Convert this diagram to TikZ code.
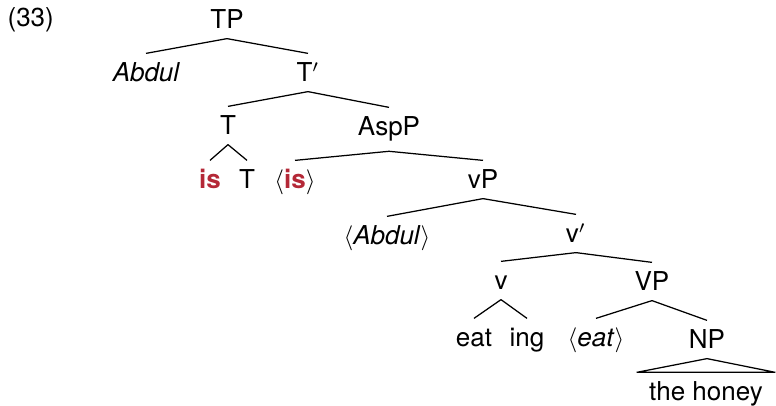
\documentclass[tikz,border=0pt]{standalone}
\usepackage{fontspec}
\setmainfont{TeX Gyre Heros}
\usepackage{amsmath, amssymb}
\definecolor{hilite}{RGB}{180,40,55}
\tikzset{every picture/.style={line width=0.5pt}}

\begin{document}
\begin{tikzpicture}[x=0.4pt,y=0.4pt,yscale=-1,xscale=1,
  lbl/.style={anchor=base, inner xsep=0pt, inner ysep=3.6pt, text height=7.6pt, font=\fontsize{10.4}{12.5}\selectfont},
  moved/.style={text=hilite, font=\fontsize{10.4}{12.5}\selectfont\bfseries}]
\useasboundingbox (0,0) rectangle (776,406);

% Example number
\node (num) [lbl, anchor=base west] at (7,27) {(33)};

% Text Node
\node (tp) [lbl] at (227,29) {TP};
\node (abdul) [lbl] at (146,82) {\itshape Abdul};
\node (tbar) [lbl] at (308,82) {T$'$};
% Text Node
\node (t) [lbl] at (228,135) {T};
\node (aspp) [lbl] at (389,136) {AspP};
% Text Node
\node (is) [lbl] at (210,189) {\textcolor{hilite}{\bfseries is}};
\node (thead) [lbl] at (247,189) {T};
\node (iscopy) [lbl] at (295,189) {$\langle$\textcolor{hilite}{\bfseries is}$\rangle$};
\node (vp) [lbl] at (483,189) {vP};
% Text Node
\node (abdulcopy) [lbl] at (387,245) {$\langle$\textit{Abdul}$\rangle$};
\node (vbar) [lbl] at (576,243) {v$'$};
% Text Node
\node (v) [lbl] at (501,290) {v};
\node (vvp) [lbl] at (652,291) {VP};
% Text Node
\node (eat) [lbl] at (474,347) {eat};
\node (ing) [lbl] at (527,347) {ing};
\node (eatcopy) [lbl] at (596,347) {$\langle$\textit{eat}$\rangle$};
\node (np) [lbl] at (707,349) {NP};
\node (honey) [lbl, inner xsep=4.8pt] at (706,401) {the honey};

%Straight Lines
\draw (tp.south) -- (abdul.north);
\draw (tp.south) -- (tbar.north);
\draw (tbar.south) -- (t.north);
\draw (tbar.south) -- (aspp.north);
\draw (t.south) -- (is.north);
\draw (t.south) -- (thead.north);
\draw (aspp.south) -- (iscopy.north);
\draw (aspp.south) -- (vp.north);
\draw (vp.south) -- (abdulcopy.north);
\draw (vp.south) -- (vbar.north);
\draw (vbar.south) -- (v.north);
\draw (vbar.south) -- (vvp.north);
\draw (v.south) -- (eat.north);
\draw (v.south) -- (ing.north);
\draw (vvp.south) -- (eatcopy.north);
\draw (vvp.south) -- (np.north);
%Shape: Triangle
\draw (np.south) -- (honey.north west) -- (honey.north east) -- cycle;

\end{tikzpicture}
\end{document}
